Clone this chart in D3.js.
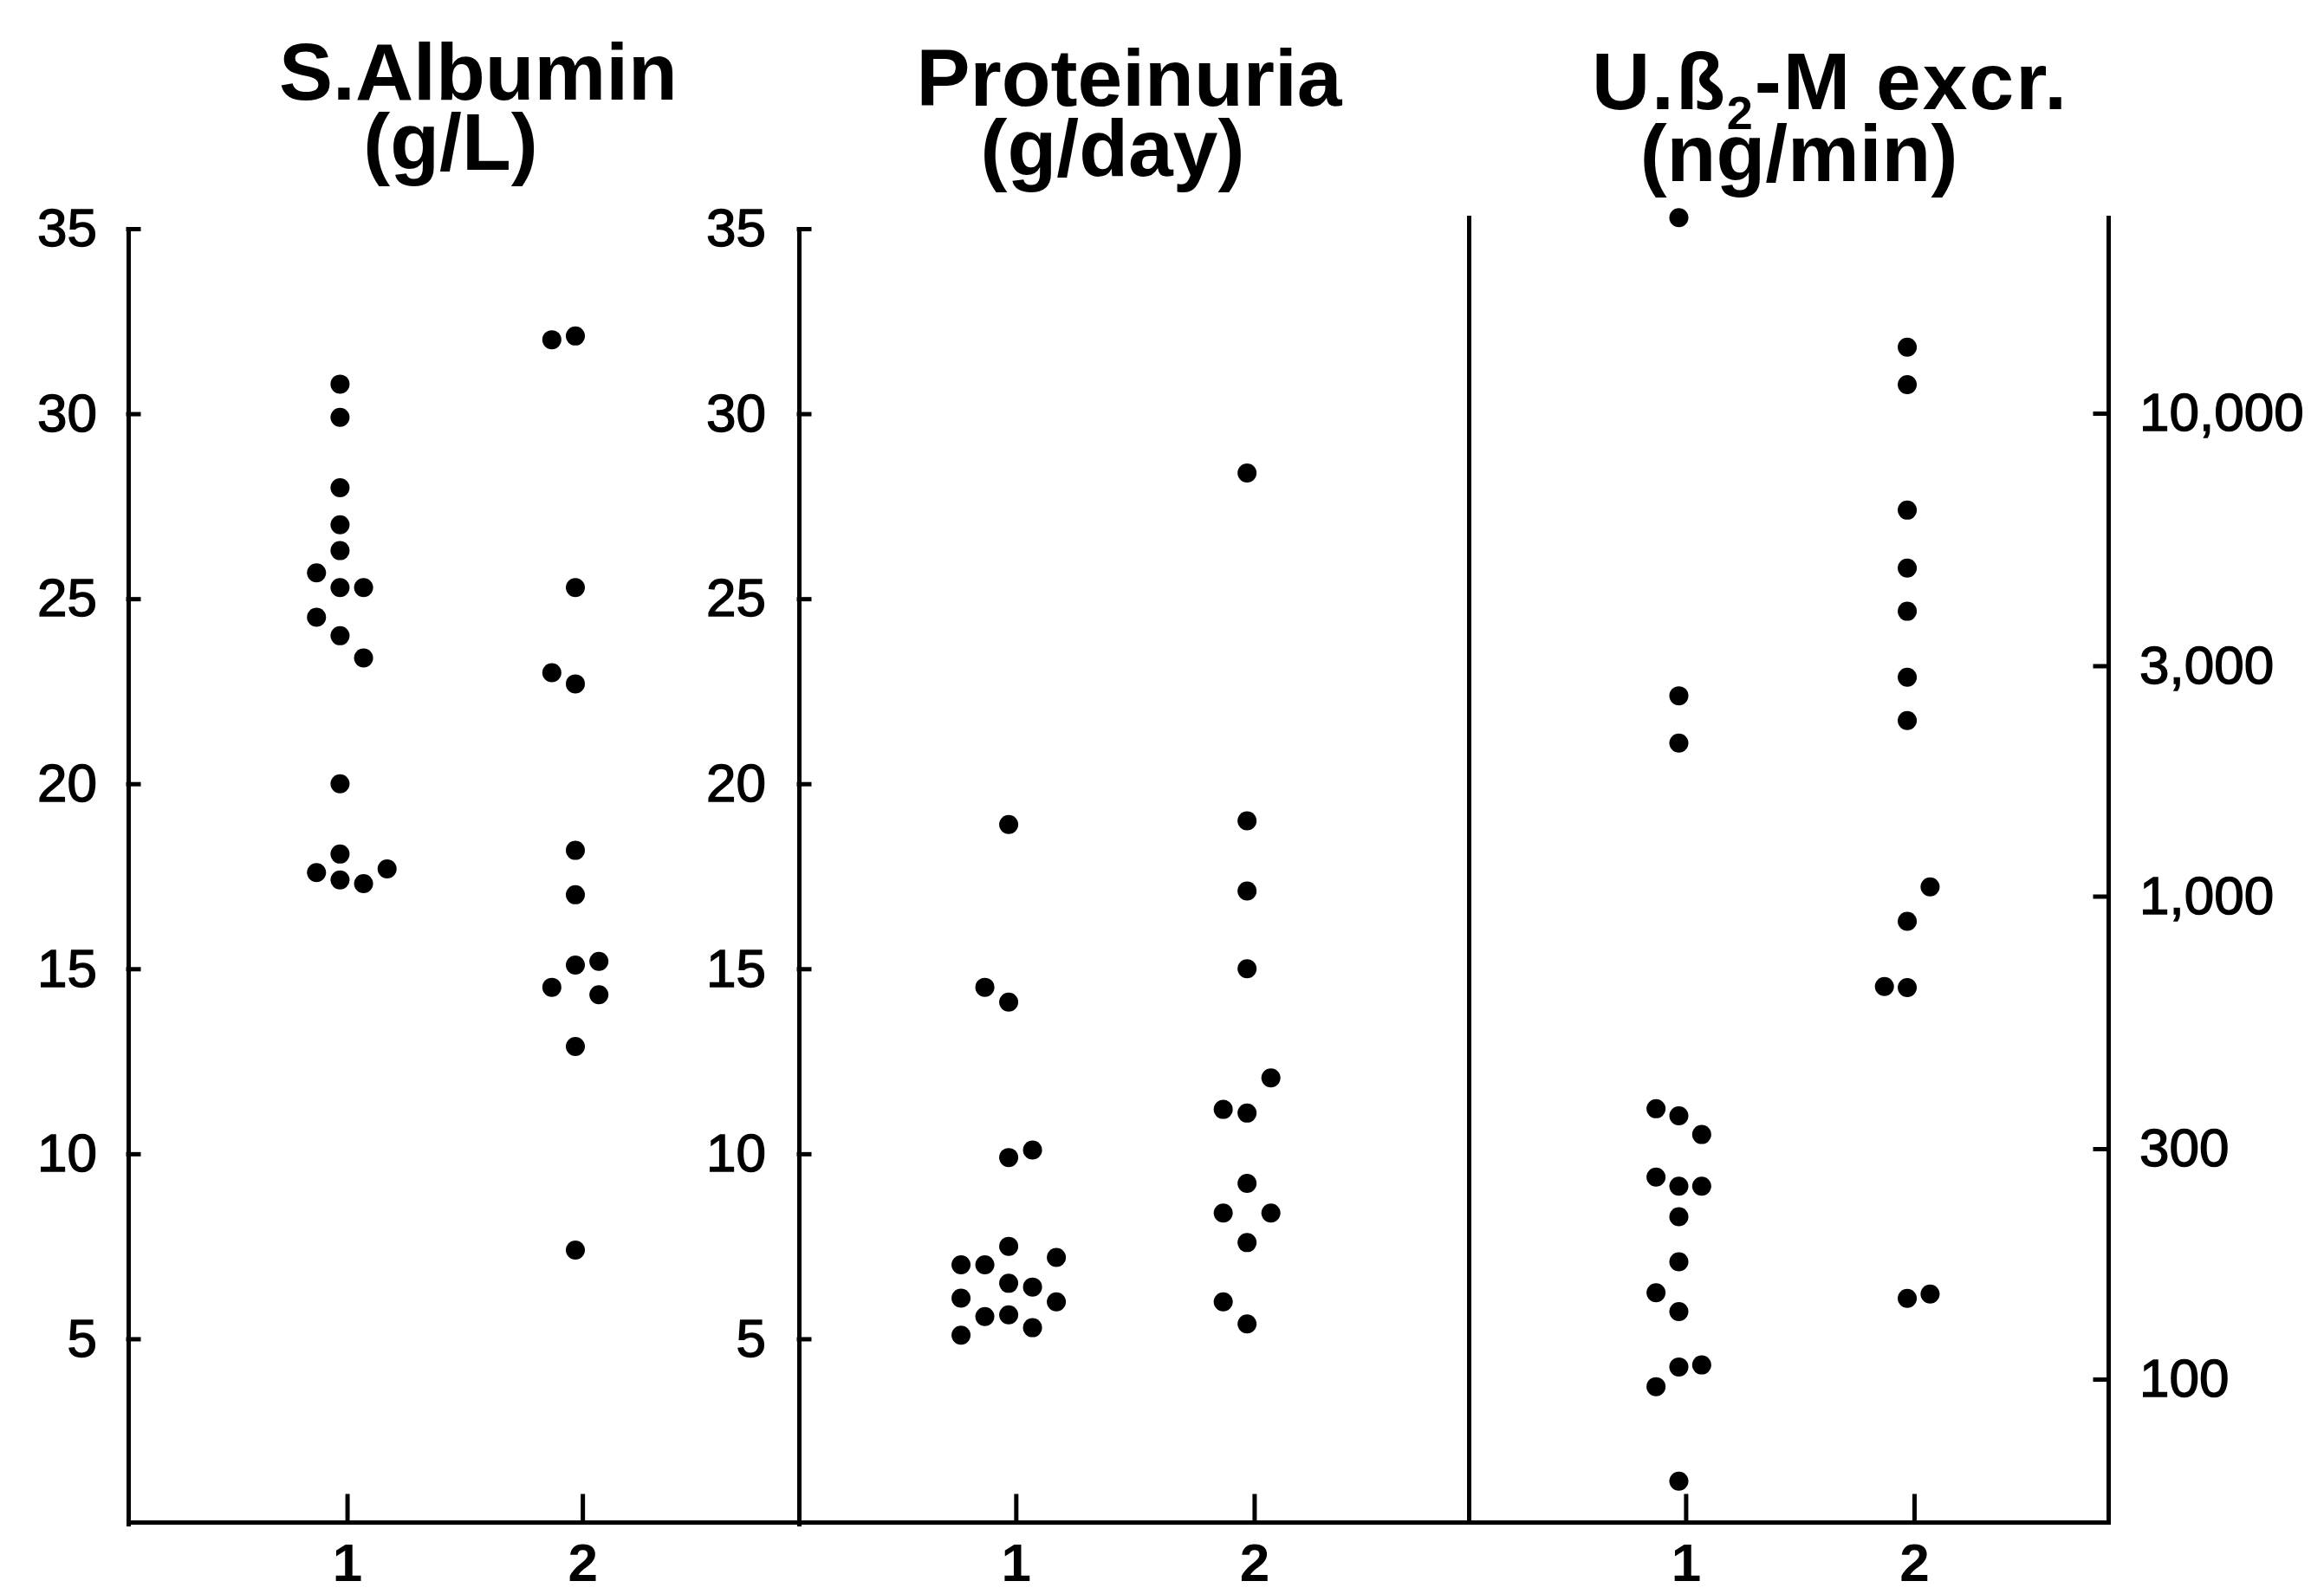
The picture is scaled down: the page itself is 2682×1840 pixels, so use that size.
<!DOCTYPE html>
<html>
<head>
<meta charset="utf-8">
<script src="https://cdn.jsdelivr.net/npm/d3@7"></script>
<style>
    html, body { margin: 0; padding: 0; background: #fff; }
    svg { display: block; }
    text { font-family: "Liberation Sans", Arial, Helvetica, sans-serif; }
</style>
</head>
<body>
<div id="chart"></div>
<script>
// DATA

const groups = [1, 2];

// S.Albumin (g/L)
const albumin1 = [30.8, 29.9, 28.0, 27.0, 26.3, 25.7, 25.3, 25.3, 24.5, 24.0, 23.4, 20.0, 18.1, 17.6, 17.4, 17.3, 17.7];
const albumin2 = [32.0, 32.1, 25.3, 23.0, 22.7, 18.2, 17.0, 15.1, 15.2, 14.5, 14.3, 12.9, 7.4];

// Proteinuria (g/day)
const protein1 = [18.9, 14.5, 14.1, 10.1, 9.9, 7.5, 7.2, 7.0, 7.0, 6.5, 6.4, 6.1, 6.0, 5.6, 5.65, 5.3, 5.1];
const protein2 = [28.4, 19.0, 17.1, 15.0, 12.05, 11.2, 11.1, 9.2, 8.4, 8.4, 7.6, 6.0, 5.4];

// U.ß2-M excretion (ng/min)
const b2m1 = [25400, 2600, 2075, 363, 351, 321, 262, 251, 251, 217, 175, 151, 138, 106, 107, 96.5, 61.5];
const b2m2 = [13700, 11460, 6300, 4780, 3890, 2840, 2310, 1045, 887, 650, 647, 147, 150];

// which side-by-side column each dot sits in (0 = on the group, -1 left, +1 right ...)
const albumin1Cols = [0, 0, 0, 0, 0, -1, 0, 1, -1, 0, 1, 0, 0, -1, 0, 1, 2];
const albumin2Cols = [-1, 0, 0, -1, 0, 0, 0, 0, 1, -1, 1, 0, 0];
const protein1Cols = [0, -1, 0, 1, 0, 0, 2, -2, -1, 0, 1, -2, 2, -1, 0, 1, -2];
const protein2Cols = [0, 0, 0, 0, 1, -1, 0, 0, -1, 1, 0, -1, 0];
const b2m1Cols = [0, 0, 0, -1, 0, 1, -1, 0, 1, 0, 0, -1, 0, 0, 1, -1, 0];
const b2m2Cols = [0, 0, 0, 0, 0, 0, 0, 1, 0, -1, 0, 0, 1];

const linearTicks = [5, 10, 15, 20, 25, 30, 35];
const logTicks = [100, 300, 1000, 3000, 10000];

// LAYOUT

const width = 2682;
const height = 1840;
const plotBottom = 1757;
const logTop = 251;
const axisWidth = 5;
const dotRadius = 11;
const colStep = 0.1;      // gap between side-by-side dots, in group units
const colShift = -0.03;   // dots sit a touch left of the tick mark
const tickFont = 62;
const titleFont = 93;

const svg = d3.select("#chart").append("svg")
    .attr("width", width)
    .attr("height", height);

svg.append("rect")
    .attr("width", width)
    .attr("height", height)
    .attr("fill", "#fff");

const yLin = d3.scaleLinear()
    .domain([0, 35])
    .range([1759, 264]);

// log scale pinned by its 100 and 10,000 ticks, then stretched to the full axis
const yLog = d3.scaleLog()
    .domain([100, 10000])
    .range([1592, 477]);
yLog.domain([yLog.invert(plotBottom), yLog.invert(logTop)])
    .range([plotBottom, logTop]);

const panels = [
    {
        left: 148, right: 922, xDomain: [0.07, 2.92], y: yLin,
        title: ["S.Albumin", "(g/L)"], titleX: [552, 520], titleY: [115, 196],
        series: [[albumin1, albumin1Cols], [albumin2, albumin2Cols]],
        pad: 36
    },
    {
        left: 922, right: 1695, xDomain: [0.09, 2.9], y: yLin,
        title: ["Proteinuria", "(g/day)"], titleX: [1303, 1284], titleY: [122, 203],
        series: [[protein1, protein1Cols], [protein2, protein2Cols]],
        pad: 38
    },
    {
        left: 1695, right: 2433, xDomain: [0.05, 2.85], y: yLog,
        title: [["U.ß", "2", "-M excr."], "(ng/min)"], titleX: [2112, 2076], titleY: [126, 209],
        series: [[b2m1, b2m1Cols], [b2m2, b2m2Cols]],
        pad: 36
    }
];

function styleAxis(sel, fontSize, weight, thicken) {
    sel.attr("font-family", null)
        .attr("font-size", fontSize)
        .attr("font-weight", weight);
    sel.selectAll("path, line")
        .attr("stroke", "#000")
        .attr("stroke-width", axisWidth)
        .attr("stroke-linecap", "square");
    sel.selectAll("text")
        .attr("fill", "#000")
        .attr("stroke", thicken ? "#000" : null)
        .attr("stroke-width", thicken ? 1.4 : null);
}

panels.forEach((p, i) => {
    const x = d3.scaleLinear()
        .domain(p.xDomain)
        .range([p.left, p.right]);

    const g = svg.append("g")
        .attr("class", "panel panel-" + i);

    // x axis, ticks point up into the plot
    g.append("g")
        .attr("class", "xAxis")
        .attr("transform", `translate(0 ${plotBottom})`)
        .call(d3.axisBottom(x)
            .tickValues(groups)
            .tickFormat(d3.format("d"))
            .tickSizeInner(-30)
            .tickSizeOuter(0)
            .tickPadding(24))
        .call(sel => styleAxis(sel, 62, "bold", false));

    if (p.y === yLin) {
        g.append("g")
            .attr("class", "yAxis")
            .attr("transform", `translate(${p.left} 0)`)
            .call(d3.axisLeft(yLin)
                .tickValues(linearTicks)
                .tickSizeInner(-12)
                .tickSizeOuter(0)
                .tickPadding(p.pad))
            .call(sel => styleAxis(sel, tickFont, "normal", true));
    } else {
        // plain divider on the left, labelled log axis on the right
        g.append("g")
            .attr("class", "yAxis")
            .attr("transform", `translate(${p.left} 0)`)
            .call(d3.axisLeft(yLog).tickValues([]).tickSizeOuter(0))
            .call(sel => styleAxis(sel, tickFont, "normal", true));

        g.append("g")
            .attr("class", "yAxis yAxisRight")
            .attr("transform", `translate(${p.right} 0)`)
            .call(d3.axisRight(yLog)
                .tickValues(logTicks)
                .tickFormat(d3.format(","))
                .tickSizeInner(-15)
                .tickSizeOuter(0)
                .tickPadding(p.pad))
            .call(sel => styleAxis(sel, tickFont, "normal", true));
    }

    // dots
    p.series.forEach(([vals, cols], gi) => {
        g.selectAll(".dot-" + gi)
            .data(vals)
            .join("circle")
            .attr("class", "dot-" + gi)
            .attr("cx", (d, k) => x(groups[gi] + cols[k] * colStep + colShift))
            .attr("cy", d => p.y(d))
            .attr("r", dotRadius)
            .attr("fill", "#000");
    });

    // two line title
    const t1 = g.append("text")
        .attr("x", p.titleX[0])
        .attr("y", p.titleY[0])
        .attr("text-anchor", "middle")
        .attr("font-size", titleFont)
        .attr("font-weight", "bold");

    if (Array.isArray(p.title[0])) {
        t1.attr("letter-spacing", 2);
        t1.append("tspan").text(p.title[0][0]);
        t1.append("tspan").attr("font-size", 54).attr("dy", 23).text(p.title[0][1]);
        t1.append("tspan").attr("dy", -23).text(p.title[0][2]);
    } else {
        t1.text(p.title[0]);
    }

    g.append("text")
        .attr("x", p.titleX[1])
        .attr("y", p.titleY[1])
        .attr("text-anchor", "middle")
        .attr("font-size", titleFont)
        .attr("font-weight", "bold")
        .text(p.title[1]);
});
</script>
</body>
</html>
